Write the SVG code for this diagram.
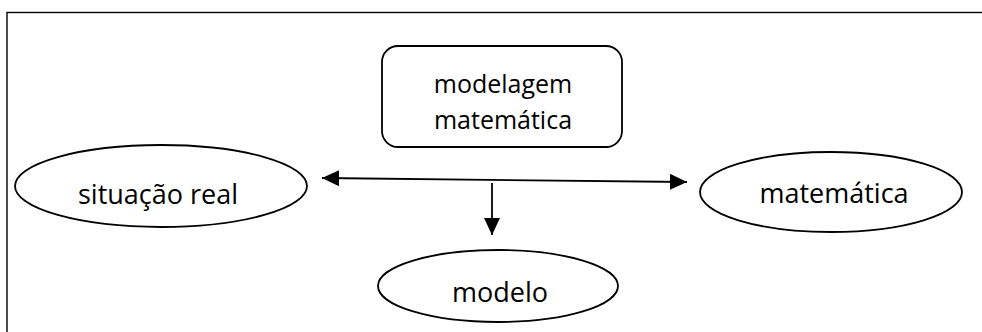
<svg xmlns="http://www.w3.org/2000/svg" width="982" height="332" viewBox="0 0 982 332">
  <style>
    .shape { fill: #ffffff; stroke: #000000; stroke-width: 1.8; }
    .frame { fill: none; stroke: #000000; stroke-width: 1.4; }
    .edge { fill: none; stroke: #000000; stroke-width: 1.8; }
    .label { font-family: "Open Sans", "Noto Sans", sans-serif; fill: #000000; text-anchor: middle; }
    .box-label { font-size: 25px; }
    .oval-label { font-size: 27px; }
  </style>
  <defs>
    <marker id="arrow" markerUnits="userSpaceOnUse" markerWidth="18" markerHeight="16" viewBox="0 0 18 16" refX="17" refY="8" orient="auto-start-reverse">
      <path d="M0,0 L17,8 L0,16 Z" fill="#000000"/>
    </marker>
  </defs>

  <rect width="982" height="332" fill="#ffffff"/>

  <!-- outer page frame -->
  <rect class="frame" x="7" y="12.5" width="1000" height="400"/>

  <g id="node-modelagem">
    <rect class="shape" x="382" y="46" width="240" height="101" rx="16" ry="16"/>
    <text class="label box-label" x="503" y="93">modelagem</text>
    <text class="label box-label" x="503" y="129">matemática</text>
  </g>

  <g id="node-situacao">
    <ellipse class="shape" cx="161" cy="186" rx="146" ry="41"/>
    <text class="label oval-label" x="158" y="204">situação real</text>
  </g>

  <g id="node-matematica">
    <ellipse class="shape" cx="831" cy="192" rx="131" ry="40"/>
    <text class="label oval-label" x="834" y="203">matemática</text>
  </g>

  <g id="node-modelo">
    <ellipse class="shape" cx="498" cy="286" rx="120" ry="36"/>
    <text class="label oval-label" x="500" y="302">modelo</text>
  </g>

  <g id="connectors">
    <line class="edge" x1="322" y1="178" x2="687" y2="182" marker-start="url(#arrow)" marker-end="url(#arrow)"/>
    <line class="edge" x1="492" y1="183" x2="492" y2="235" marker-end="url(#arrow)"/>
  </g>
</svg>
